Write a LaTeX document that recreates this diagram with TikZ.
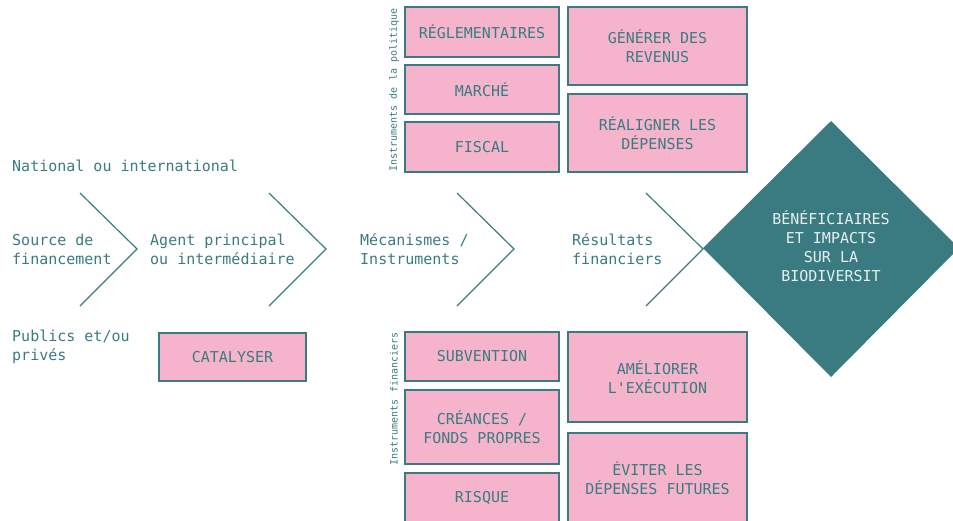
\documentclass[tikz,border=0pt]{standalone}
\usepackage{fontspec}
\setmainfont{DejaVu Sans Mono}[Ligatures=TeXOff]
\definecolor{tealc}{HTML}{3A7B82}
\definecolor{pinkc}{HTML}{F5B4CC}
\definecolor{lightc}{HTML}{E6F0F0}
\begin{document}
\begin{tikzpicture}[x=1pt,y=-1pt,
  pbox/.style={draw=tealc, fill=pinkc, line width=1.4pt, text=tealc, align=center, inner sep=0pt,
    font=\fontsize{15}{19}\selectfont},
  lbl/.style={anchor=west, align=left, text=tealc, inner sep=0pt, font=\fontsize{15}{19}\selectfont},
  vlbl/.style={rotate=90, text=tealc, inner sep=0pt, font=\fontsize{10}{11}\selectfont},
  chev/.style={draw=tealc, line width=1.2pt}]
\useasboundingbox (0,0) rectangle (953,520);
% diamond
\fill[tealc] (703,248) -- (831,121) -- (959,248) -- (831,377) -- cycle;
\node[align=center, text=lightc, inner sep=0pt, font=\fontsize{15}{19}\selectfont] (ben) at (831,246)
  {BÉNÉFICIAIRES\\ET IMPACTS\\SUR LA\\BIODIVERSIT};
% chevrons
\draw[chev] (80,193) -- (137,249) -- (80,306);
\draw[chev] (269,193) -- (326,249) -- (269,306);
\draw[chev] (457,193) -- (514,249) -- (457,306);
\draw[chev] (646,193) -- (703,249) -- (646,306);
% left texts
\node[lbl] (nat) at (12,166) {National ou international};
\node[lbl] (src) at (12,249) {Source de\\financement};
\node[lbl] (agt) at (150,249) {Agent principal\\ou intermédiaire};
\node[lbl] (mec) at (360,249) {Mécanismes /\\Instruments};
\node[lbl] (res) at (572,249) {Résultats\\financiers};
\node[lbl] (pub) at (12,347) {Publics et/ou\\privés};
% boxes
\node[pbox, minimum width=147, minimum height=48] (cat) at (232.5,357) {CATALYSER};
\node[pbox, minimum width=154, minimum height=50] (reg) at (482,32) {RÉGLEMENTAIRES};
\node[pbox, minimum width=154, minimum height=49] (mar) at (482,89.5) {MARCHÉ};
\node[pbox, minimum width=154, minimum height=50] (fis) at (482,147) {FISCAL};
\node[pbox, minimum width=179, minimum height=78] (gen) at (657.5,46) {GÉNÉRER DES\\REVENUS};
\node[pbox, minimum width=179, minimum height=78] (rea) at (657.5,133) {RÉALIGNER LES\\DÉPENSES};
\node[pbox, minimum width=154, minimum height=49] (sub) at (482,356.5) {SUBVENTION};
\node[pbox, minimum width=154, minimum height=74] (cre) at (482,427) {CRÉANCES /\\FONDS PROPRES};
\node[pbox, minimum width=154, minimum height=50] (ris) at (482,498) {RISQUE};
\node[pbox, minimum width=179, minimum height=90] (ame) at (657.5,377) {AMÉLIORER\\L'EXÉCUTION};
\node[pbox, minimum width=179, minimum height=90] (evi) at (657.5,478) {ÉVITER LES\\DÉPENSES FUTURES};
% vertical labels
\node[vlbl] (pol) at (394,90) {Instruments de la politique};
\node[vlbl] (fin) at (394,399) {Instruments financiers};
\end{tikzpicture}
\end{document}
